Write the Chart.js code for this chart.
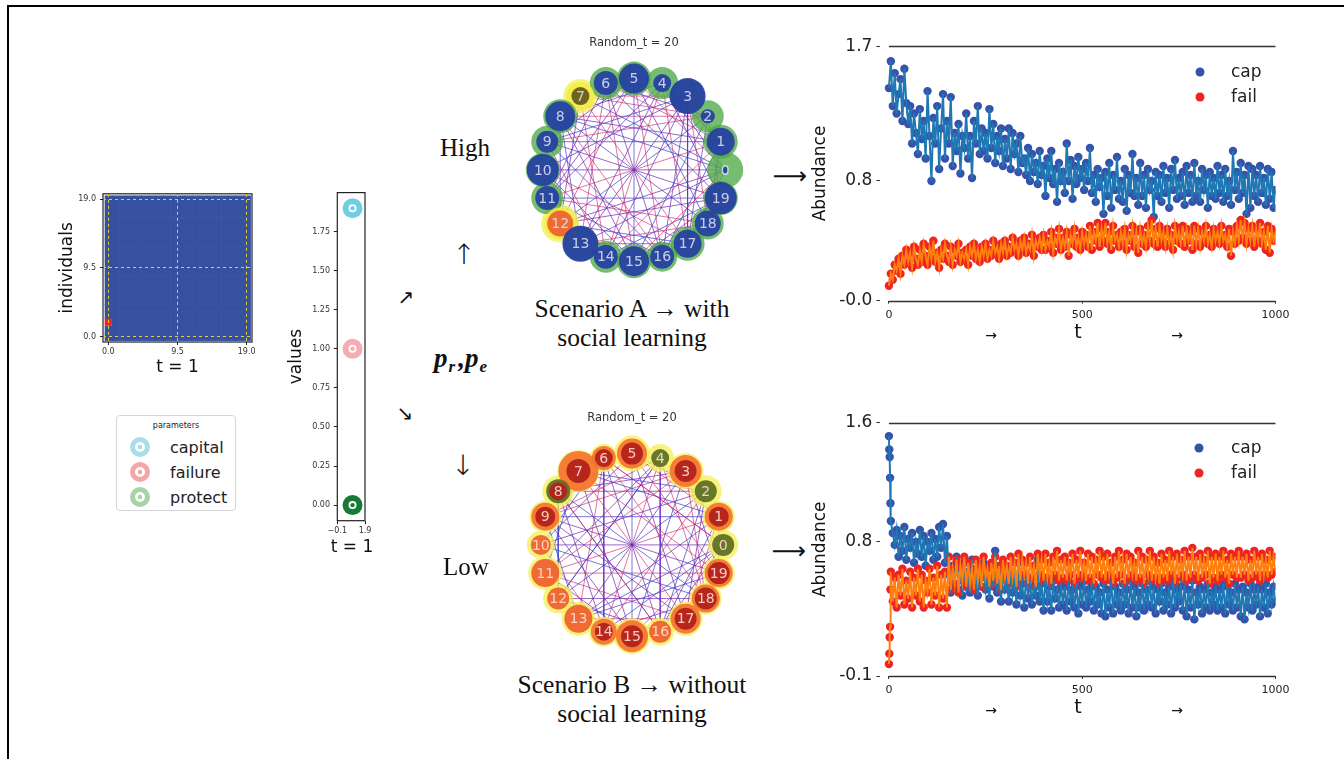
<!DOCTYPE html>
<html>
<head>
<meta charset="utf-8">
<script src="https://cdn.jsdelivr.net/npm/chart.js@4.4.1/dist/chart.umd.min.js"></script>
<style>
body { margin: 0; background: #fff; }
#page { position: relative; width: 1344px; height: 759px; overflow: hidden; font-family: "DejaVu Sans"; color: #222; }
canvas { position: absolute; }
.frame { position: absolute; left: 7px; top: 5px; width: 1400px; height: 800px; border-top: 2px solid #000; border-left: 2px solid #000; }
.lbl { position: absolute; transform: translate(-50%, -50%); white-space: nowrap; text-align: center; font-family: "Liberation Serif"; font-size: 24px; color: #111; }
.scen { line-height: 29px; font-size: 25.5px; }
.arr { font-family: "DejaVu Sans"; }
.sans { font-family: "DejaVu Sans"; font-size: 17px; color: #111; }
.params { position: absolute; left: 116px; top: 415px; width: 120px; height: 96px; border: 1px solid #d6d6d6; border-radius: 4px; box-sizing: border-box; }
.params .ttl { position: absolute; left: 0; width: 100%; top: 5px; text-align: center; font-size: 8px; color: #222; }
.ring { position: absolute; width: 10px; height: 10px; border-radius: 50%; border: 5px solid; }
.params .txt { position: absolute; left: 53px; font-size: 16px; color: #222; transform: translateY(-50%); }
.leg { position: absolute; font-size: 17px; color: #222; transform: translateY(-50%); }
.dot { position: absolute; width: 9px; height: 9px; border-radius: 50%; transform: translate(-50%, -50%); }
.pp { font-weight: bold; font-style: italic; }
.pp sub { font-size: 17px; vertical-align: -5px; margin-left: 1px; margin-right: 3px; }
</style>
</head>
<body>
<div id="page">
  <div class="frame"></div>

  <canvas id="heat" width="212" height="200" style="left:50px;top:185px"></canvas>
  <canvas id="strip" width="95" height="376" style="left:280px;top:184px"></canvas>
  <canvas id="netA" width="228" height="254" style="left:520px;top:30px"></canvas>
  <canvas id="netB" width="228" height="254" style="left:518px;top:405px"></canvas>
  <canvas id="seriesA" width="484" height="324" style="left:810px;top:32px"></canvas>
  <canvas id="seriesB" width="484" height="324" style="left:810px;top:408px"></canvas>

  <div class="lbl sans" style="left:352px;top:546px">t = 1</div>

  <div class="params">
    <div class="ttl">parameters</div>
    <div class="ring" style="left:13px;top:21px;border-color:#a9dde9;background:radial-gradient(circle,#a9dde9 0 2px,#fff 2.6px)"></div>
    <div class="txt" style="top:31px">capital</div>
    <div class="ring" style="left:13px;top:46px;border-color:#f5a6a7;background:radial-gradient(circle,#f5a6a7 0 2px,#fff 2.6px)"></div>
    <div class="txt" style="top:56px">failure</div>
    <div class="ring" style="left:13px;top:71px;border-color:#a7d3a7;background:radial-gradient(circle,#a7d3a7 0 2px,#fff 2.6px)"></div>
    <div class="txt" style="top:81px">protect</div>
  </div>

  <div class="lbl" style="left:465px;top:148px;font-size:25px">High</div>
  <div class="lbl arr" style="left:464px;top:254px;font-size:28px;font-weight:200">↑</div>
  <div class="lbl arr" style="left:406px;top:297px;font-size:20px">↗</div>
  <div class="lbl pp" style="left:462px;top:360px;font-size:27px">p<sub>r</sub>,p<sub>e</sub></div>
  <div class="lbl arr" style="left:405px;top:413px;font-size:20px">↘</div>
  <div class="lbl arr" style="left:463px;top:465px;font-size:28px;font-weight:200">↓</div>
  <div class="lbl" style="left:466px;top:567px;font-size:25px">Low</div>
  <div class="lbl scen" style="left:632px;top:323px">Scenario A → with<br>social learning</div>
  <div class="lbl scen" style="left:632px;top:699px">Scenario B → without<br>social learning</div>
  <div class="lbl arr" style="left:790px;top:176px;font-size:24px">⟶</div>
  <div class="lbl arr" style="left:789px;top:551px;font-size:24px">⟶</div>
  <div class="lbl arr" style="left:991px;top:335px;font-size:14px">→</div>
  <div class="lbl arr" style="left:1177px;top:335px;font-size:14px">→</div>
  <div class="lbl arr" style="left:991px;top:710px;font-size:14px">→</div>
  <div class="lbl arr" style="left:1177px;top:710px;font-size:14px">→</div>

  <div class="dot" style="left:1200px;top:72px;background:#3553ab"></div>
  <div class="leg" style="left:1231px;top:71px">cap</div>
  <div class="dot" style="left:1200px;top:97px;background:#ee2420"></div>
  <div class="leg" style="left:1231px;top:96px">fail</div>
  <div class="dot" style="left:1199px;top:448px;background:#3553ab"></div>
  <div class="leg" style="left:1231px;top:447px">cap</div>
  <div class="dot" style="left:1199px;top:473px;background:#ee2420"></div>
  <div class="leg" style="left:1231px;top:472px">fail</div>
</div>

<script>
// ---- heatmap (t = 1) ----
const heatSize = 20;
const heatRedCells = [[0, 2]];
const heatTicks = [0, 9.5, 19];
const heatColors = ['#3651a0', '#e8262a'];

// ---- strip plot (values at t = 1) ----
const stripNames = ['capital', 'failure', 'protect'];
const stripValues = [1.9, 1.0, 0.0];
const stripT = 1;
const stripColors = ['#72cde0', '#f5adb2', '#177a36'];
const stripXTicks = [-0.1, 1.9];
const stripYTicks = [0, 0.25, 0.5, 0.75, 1, 1.25, 1.5, 1.75];

// ---- networks (Random_t = 20) ----
const nodeCount = 20;
const netAInner = [3, 14, 7, 18, 9, 15, 12, 9, 15, 11, 16, 12, 13, 18, 12, 15, 12, 14, 13, 16];
const netAInnerCol = ['b','b','b','b','b','b','b','o','b','b','b','b','r','b','b','b','b','b','b','b'];
const netAHalo = [18, 17, 16, 17, 16, 17, 16, 14, 17, 16, 17, 16, 16, 17, 16, 17, 15, 17, 16, 17];
const netAHaloCol = ['g','g','g','g','g','g','g','y','g','g','g','g','y','g','g','g','g','g','g','g'];
const netAGlow = [0, 0, 0, 0, 0, 0, 0, 17, 0, 0, 0, 0, 19, 0, 0, 0, 0, 0, 0, 0];
const netAEdges = [[0,10],[1,11],[2,12],[3,13],[4,14],[5,15],[6,16],[7,17],[8,18],[9,19],
  [0,5],[0,7],[0,13],[0,15],[1,4],[1,8],[1,14],[1,16],[2,6],[2,9],[2,15],[2,17],[3,7],[3,9],
  [3,16],[3,18],[4,8],[4,11],[4,17],[4,19],[5,9],[5,12],[5,18],[6,11],[6,13],[6,19],[7,12],
  [7,14],[8,13],[8,15],[9,14],[9,16],[10,15],[10,17],[10,3],[11,16],[11,18],[12,17],[12,19],
  [13,18],[14,19],[15,19],[16,8],[17,0],[18,1],[19,2],[0,4],[5,11],[7,2],[13,17],[3,17],
  [8,2],[11,19],[12,0],[6,1],[9,1],[14,3],[16,5],[0,8],[4,13],[6,15],[12,8]];

const netBInner = [11, 10, 11, 11, 9, 11, 9, 12, 9, 10, 10, 14, 11, 14, 9, 11, 11, 11, 11, 11];
const netBInnerCol = ['v','d','v','d','v','d','d','d','d','d','r','r','r','r','d','d','r','d','d','d'];
const netBHalo = [0, 14, 0, 16, 0, 15, 12, 20, 12, 14, 0, 0, 0, 0, 13, 16, 0, 15, 14, 14];
const netBHaloCol = ['O','O','O','O','O','O','O','O','v','O','O','O','O','O','O','O','O','O','O','O'];
const netBGlow = [15, 16, 16, 18, 14, 18, 14, 21, 16, 16, 14, 17, 15, 17, 15, 18, 14, 17, 16, 16];
const netBEdges = [[0,10],[1,11],[2,12],[3,13],[4,14],[5,15],[6,16],[7,17],[8,18],[9,19],
  [0,6],[0,13],[0,16],[1,5],[1,9],[1,13],[1,17],[2,7],[2,10],[2,14],[2,16],[3,8],[3,11],[3,15],
  [3,19],[4,9],[4,12],[4,16],[4,18],[5,10],[5,17],[5,19],[6,10],[6,14],[6,18],[7,11],[7,15],
  [7,19],[8,12],[8,14],[8,16],[9,13],[9,17],[10,14],[10,18],[11,15],[11,17],[12,16],[12,18],
  [13,17],[13,19],[14,18],[15,0],[16,1],[17,2],[18,3],[19,1],[8,2],[11,19],[7,1],[12,4],[9,3],
  [14,0],[15,9],[6,0],[5,2],[4,11],[13,6],[16,8]];

const nodeColors = {
  b: 'rgba(35,60,165,0.9)', o: 'rgba(95,85,25,0.9)', r: 'rgba(238,95,45,0.92)',
  g: 'rgba(80,170,70,0.78)', y: 'rgba(245,235,70,0.85)', d: 'rgba(178,32,26,0.92)',
  O: 'rgba(245,112,45,0.9)', v: 'rgba(92,108,34,0.92)'
};
const glowColor = 'rgba(246,240,95,0.8)';
const edgeColors = ['rgba(110,40,180,0.7)', 'rgba(205,30,110,0.62)', 'rgba(60,60,200,0.7)'];

// ---- time series (Abundance) ----
const tTop = [0,5,10,15,20,25,30,35,40,45,50,55,60,65,70,75,80,85,90,95,
  100,105,110,115,120,125,130,135,140,145,150,155,160,165,170,175,180,185,190,195,
  200,205,210,215,220,225,230,235,240,245,250,255,260,265,270,275,280,285,290,295,
  300,305,310,315,320,325,330,335,340,345,350,355,360,365,370,375,380,385,390,395,
  400,405,410,415,420,425,430,435,440,445,450,455,460,465,470,475,480,485,490,495,
  500,505,510,515,520,525,530,535,540,545,550,555,560,565,570,575,580,585,590,595,
  600,605,610,615,620,625,630,635,640,645,650,655,660,665,670,675,680,685,690,695,
  700,705,710,715,720,725,730,735,740,745,750,755,760,765,770,775,780,785,790,795,
  800,805,810,815,820,825,830,835,840,845,850,855,860,865,870,875,880,885,890,895,
  900,905,910,915,920,925,930,935,940,945,950,955,960,965,970,975,980,985,990,995,1000];
const capTop = [1.42,1.60,1.30,1.52,1.25,1.38,1.48,1.20,1.55,1.32,
  1.18,1.30,1.05,1.25,1.12,0.98,1.28,1.08,1.20,0.95,
  1.40,1.10,0.80,1.22,1.05,1.30,0.88,1.15,1.38,0.95,
  1.20,1.05,1.36,0.90,1.12,1.00,1.18,0.85,1.10,1.02,
  1.25,0.95,1.10,0.82,1.20,1.05,1.30,0.98,1.15,1.00,
  1.12,0.95,1.28,1.02,1.18,0.92,1.10,1.00,1.15,0.90,
  1.08,0.95,1.15,0.88,1.12,0.98,1.05,0.86,1.10,0.92,
  0.95,0.84,1.02,0.80,0.98,0.86,0.92,0.78,1.00,0.84,
  0.90,0.70,0.95,0.82,1.00,0.78,0.88,0.66,0.92,0.80,
  0.86,0.72,1.05,0.80,0.94,0.68,0.90,0.78,0.96,0.82,
  0.88,0.74,0.92,0.80,1.02,0.72,0.84,0.66,0.88,0.76,
  0.82,0.58,0.86,0.70,0.92,0.62,0.84,0.74,0.96,0.68,
  0.80,0.66,0.88,0.60,0.84,0.72,0.98,0.70,0.82,0.64,
  0.92,0.70,0.84,0.62,0.88,0.74,0.80,0.56,0.86,0.70,
  0.84,0.66,0.90,0.72,0.82,0.62,0.88,0.74,0.94,0.68,
  0.82,0.70,0.86,0.64,0.90,0.72,0.84,0.66,0.92,0.70,
  0.80,0.66,0.88,0.74,0.84,0.62,0.86,0.70,0.82,0.68,
  0.90,0.72,0.84,0.66,0.88,0.70,0.80,0.64,1.00,0.74,
  0.86,0.68,0.92,0.72,0.84,0.58,0.90,0.62,0.88,0.70,
  0.84,0.66,0.90,0.72,0.82,0.64,0.88,0.68,0.86,0.62,0.74];
const failTop = [0.10,0.18,0.14,0.24,0.20,0.28,0.18,0.30,0.24,0.34,
  0.26,0.32,0.22,0.36,0.28,0.24,0.34,0.26,0.38,0.30,
  0.24,0.36,0.28,0.40,0.26,0.32,0.22,0.34,0.28,0.38,
  0.30,0.26,0.36,0.24,0.34,0.30,0.38,0.26,0.32,0.28,
  0.34,0.24,0.36,0.30,0.38,0.28,0.34,0.26,0.36,0.30,
  0.38,0.28,0.34,0.30,0.40,0.32,0.36,0.28,0.38,0.32,
  0.40,0.30,0.36,0.32,0.42,0.34,0.38,0.30,0.40,0.34,
  0.42,0.32,0.38,0.34,0.44,0.30,0.40,0.36,0.42,0.34,
  0.44,0.34,0.40,0.36,0.46,0.32,0.42,0.38,0.48,0.34,
  0.42,0.36,0.46,0.30,0.44,0.38,0.48,0.36,0.42,0.34,
  0.46,0.38,0.44,0.36,0.50,0.34,0.46,0.40,0.52,0.36,
  0.48,0.40,0.52,0.38,0.46,0.34,0.50,0.40,0.44,0.36,
  0.46,0.38,0.48,0.34,0.44,0.40,0.50,0.36,0.46,0.32,
  0.48,0.38,0.44,0.36,0.50,0.40,0.54,0.38,0.48,0.36,
  0.50,0.40,0.46,0.36,0.48,0.38,0.44,0.34,0.50,0.40,
  0.46,0.38,0.50,0.36,0.48,0.40,0.46,0.34,0.50,0.38,
  0.48,0.36,0.46,0.40,0.50,0.38,0.44,0.36,0.48,0.40,
  0.46,0.38,0.50,0.40,0.44,0.36,0.48,0.30,0.46,0.38,
  0.50,0.40,0.54,0.42,0.52,0.38,0.48,0.40,0.50,0.36,
  0.48,0.40,0.52,0.38,0.46,0.34,0.50,0.32,0.48,0.40,0.46];
const yTicksTop = [0, 0.8, 1.7];
const yLabelsTop = ['-0.0', '0.8', '1.7'];

const tBottom = [0,1,2,3,4,5,10,15,20,25,30,35,40,45,50,55,60,65,70,75,80,85,90,95,
  100,105,110,115,120,125,130,135,140,145,150,155,160,165,170,175,180,185,190,195,
  200,205,210,215,220,225,230,235,240,245,250,255,260,265,270,275,280,285,290,295,
  300,305,310,315,320,325,330,335,340,345,350,355,360,365,370,375,380,385,390,395,
  400,405,410,415,420,425,430,435,440,445,450,455,460,465,470,475,480,485,490,495,
  500,505,510,515,520,525,530,535,540,545,550,555,560,565,570,575,580,585,590,595,
  600,605,610,615,620,625,630,635,640,645,650,655,660,665,670,675,680,685,690,695,
  700,705,710,715,720,725,730,735,740,745,750,755,760,765,770,775,780,785,790,795,
  800,805,810,815,820,825,830,835,840,845,850,855,860,865,870,875,880,885,890,895,
  900,905,910,915,920,925,930,935,940,945,950,955,960,965,970,975,980,985,990,995,1000];
const capBottom = [1.51,1.42,1.37,1.23,1.06,
  0.94,0.86,0.78,0.88,0.70,0.84,0.74,0.90,0.68,0.82,
  0.76,0.86,0.66,0.80,0.72,0.88,0.70,0.84,0.64,0.80,
  0.74,0.86,0.68,0.82,0.70,0.90,0.76,0.92,0.66,0.84,
  0.58,0.46,0.64,0.52,0.70,0.48,0.62,0.44,0.66,0.50,
  0.60,0.46,0.68,0.52,0.58,0.44,0.62,0.50,0.66,0.48,
  0.56,0.42,0.64,0.50,0.74,0.46,0.58,0.40,0.62,0.48,
  0.54,0.40,0.60,0.46,0.56,0.38,0.66,0.44,0.52,0.36,
  0.58,0.42,0.54,0.38,0.50,0.44,0.68,0.40,0.52,0.34,
  0.56,0.40,0.50,0.34,0.54,0.42,0.48,0.36,0.52,0.38,
  0.50,0.34,0.54,0.40,0.48,0.36,0.52,0.32,0.50,0.38,
  0.54,0.36,0.48,0.40,0.52,0.34,0.50,0.38,0.46,0.32,
  0.52,0.30,0.48,0.36,0.54,0.32,0.50,0.38,0.46,0.34,
  0.52,0.38,0.48,0.32,0.54,0.36,0.50,0.30,0.46,0.36,
  0.52,0.34,0.48,0.38,0.54,0.36,0.50,0.32,0.48,0.40,
  0.52,0.34,0.46,0.38,0.50,0.32,0.54,0.36,0.48,0.40,
  0.50,0.34,0.52,0.30,0.48,0.36,0.54,0.28,0.46,0.38,
  0.50,0.32,0.48,0.36,0.52,0.34,0.46,0.38,0.50,0.34,
  0.48,0.36,0.52,0.32,0.50,0.38,0.46,0.34,0.52,0.36,
  0.48,0.30,0.50,0.28,0.46,0.36,0.52,0.34,0.48,0.38,
  0.50,0.30,0.48,0.36,0.52,0.32,0.46,0.38,0.50,0.40];
const failBottom = [-0.02,0.05,0.16,0.23,0.48,
  0.60,0.40,0.56,0.36,0.58,0.44,0.62,0.38,0.54,0.42,
  0.60,0.36,0.56,0.44,0.62,0.40,0.58,0.36,0.54,0.46,
  0.62,0.38,0.56,0.44,0.64,0.36,0.58,0.42,0.60,0.36,
  0.70,0.48,0.62,0.52,0.68,0.46,0.64,0.54,0.70,0.50,
  0.66,0.52,0.62,0.48,0.68,0.54,0.64,0.50,0.70,0.56,
  0.62,0.50,0.66,0.54,0.70,0.52,0.64,0.48,0.68,0.56,
  0.64,0.52,0.70,0.56,0.66,0.50,0.72,0.54,0.68,0.58,
  0.66,0.52,0.70,0.56,0.64,0.50,0.72,0.58,0.68,0.54,
  0.72,0.56,0.66,0.52,0.70,0.58,0.74,0.54,0.68,0.56,
  0.70,0.54,0.66,0.58,0.72,0.52,0.68,0.56,0.74,0.58,
  0.66,0.54,0.72,0.56,0.70,0.52,0.68,0.58,0.74,0.56,
  0.70,0.54,0.72,0.58,0.66,0.52,0.70,0.56,0.74,0.58,
  0.68,0.52,0.72,0.56,0.70,0.58,0.66,0.54,0.74,0.56,
  0.70,0.52,0.68,0.58,0.74,0.54,0.70,0.56,0.66,0.52,
  0.72,0.56,0.68,0.54,0.74,0.58,0.70,0.52,0.72,0.56,
  0.68,0.58,0.74,0.54,0.70,0.56,0.76,0.58,0.70,0.54,
  0.72,0.56,0.68,0.58,0.74,0.52,0.70,0.56,0.72,0.54,
  0.70,0.58,0.74,0.56,0.68,0.52,0.72,0.58,0.70,0.56,
  0.74,0.56,0.70,0.58,0.72,0.54,0.68,0.56,0.74,0.58,
  0.70,0.54,0.72,0.58,0.68,0.56,0.74,0.58,0.70,0.60];
const yTicksBottom = [-0.1, 0.8, 1.6];
const yLabelsBottom = ['-0.1', '0.8', '1.6'];
const xTicksSeries = [0, 500, 1000];

const capDotColor = '#3553ab', capLineColor = '#1f77b4';
const failDotColor = '#ee2420', failLineColor = '#ff7f0e';

Chart.defaults.font.family = '"DejaVu Sans"';
Chart.defaults.color = '#222';

// stroke a full box around the plot area
const frameBox = {
  id: 'frameBox',
  afterDraw(chart) {
    const { ctx, chartArea: a } = chart;
    ctx.save();
    ctx.strokeStyle = '#222';
    ctx.lineWidth = 1.2;
    ctx.strokeRect(a.left, a.top, a.right - a.left, a.bottom - a.top);
    ctx.restore();
  }
};

// heatmap cells, drawn through the scales
const heatCellsPlugin = {
  id: 'heatCells',
  beforeDatasetsDraw(chart) {
    const { ctx, scales: { x, y } } = chart;
    ctx.save();
    for (let i = 0; i < heatSize; i++) {
      for (let j = 0; j < heatSize; j++) {
        const red = heatRedCells.some(c => c[0] === i && c[1] === j);
        if (red) continue;
        const x0 = x.getPixelForValue(i - 0.5), x1 = x.getPixelForValue(i + 0.5);
        const y0 = y.getPixelForValue(j + 0.5), y1 = y.getPixelForValue(j - 0.5);
        ctx.fillStyle = heatColors[0];
        ctx.fillRect(x0, y0, x1 - x0 + 0.6, y1 - y0 + 0.6);
      }
    }
    heatRedCells.forEach(c => {
      const x0 = x.getPixelForValue(c[0] - 0.5), x1 = x.getPixelForValue(c[0] + 0.5);
      const y0 = y.getPixelForValue(c[1] + 0.5), y1 = y.getPixelForValue(c[1] - 0.5);
      ctx.fillStyle = heatColors[1];
      ctx.fillRect(x0, y0, x1 - x0, y1 - y0);
    });
    ctx.restore();
  }
};

const heatGrid = { color: '#e2cf3c', tickColor: '#222', tickLength: 3, tickBorderDash: [], z: 1 };
const heatBorder = { display: false, dash: [3, 3] };

new Chart(document.getElementById('heat'), {
  type: 'scatter',
  data: { datasets: [] },
  options: {
    animation: false, responsive: false,
    layout: { autoPadding: false, padding: { top: 8, right: 10, left: 0, bottom: 0 } },
    plugins: { legend: { display: false }, tooltip: { enabled: false } },
    scales: {
      x: {
        min: -0.73, max: 19.73,
        afterBuildTicks: s => { s.ticks = heatTicks.map(v => ({ value: v })); },
        afterFit: s => { s.height = 43; },
        grid: heatGrid,
        border: heatBorder,
        ticks: { font: { size: 8 }, color: '#333', padding: 2, maxRotation: 0, autoSkip: false, callback: v => v.toFixed(1) },
        title: { display: true, text: 't = 1', font: { size: 17 }, color: '#111', padding: { top: 0, bottom: 7 } }
      },
      y: {
        min: -0.73, max: 19.73,
        afterBuildTicks: s => { s.ticks = heatTicks.map(v => ({ value: v })); },
        afterFit: s => { s.width = 53; },
        grid: heatGrid,
        border: heatBorder,
        ticks: { font: { size: 8 }, color: '#333', padding: 4, autoSkip: false, callback: v => v.toFixed(1) },
        title: { display: true, text: 'individuals', font: { size: 17 }, color: '#111', padding: { top: 7, bottom: 0 } }
      }
    }
  },
  plugins: [heatCellsPlugin, frameBox]
});

// strip of values at t = 1
const stripPoints = stripValues.map(v => ({ x: stripT, y: v }));
new Chart(document.getElementById('strip'), {
  type: 'scatter',
  data: {
    datasets: [
      { label: 'centre', data: stripPoints, pointRadius: 2.2, pointBackgroundColor: stripColors, pointBorderWidth: 0, clip: false },
      { label: 'ring', data: stripPoints, pointRadius: 7, pointBackgroundColor: '#fff', pointBorderColor: stripColors, pointBorderWidth: 6, clip: false }
    ]
  },
  options: {
    animation: false, responsive: false,
    layout: { autoPadding: false, padding: { top: 8.6, right: 10, left: 0, bottom: 0 } },
    plugins: { legend: { display: false }, tooltip: { enabled: false } },
    scales: {
      x: {
        min: -0.1, max: 1.9,
        afterBuildTicks: s => { s.ticks = stripXTicks.map(v => ({ value: v })); },
        afterFit: s => { s.height = 39.3; },
        grid: { drawOnChartArea: false, tickColor: '#222', tickLength: 3.5 },
        border: { display: false },
        ticks: { font: { size: 8 }, color: '#333', padding: 2, maxRotation: 0, autoSkip: false,
          callback: v => (v < 0 ? '\u2212' + Math.abs(v).toFixed(1) : v.toFixed(1)) }
      },
      y: {
        min: -0.1, max: 2.0,
        afterBuildTicks: s => { s.ticks = stripYTicks.map(v => ({ value: v })); },
        afterFit: s => { s.width = 57.3; },
        grid: { drawOnChartArea: false, tickColor: '#222', tickLength: 3.5 },
        border: { display: false },
        ticks: { font: { size: 8 }, color: '#333', padding: 3.8, autoSkip: false, callback: v => v.toFixed(2) },
        title: { display: true, text: 'values', font: { size: 17 }, color: '#111', padding: { top: 6.5, bottom: 0 } }
      }
    }
  },
  plugins: [frameBox]
});

// circular layout networks
function nodePos(i) {
  const a = 2 * Math.PI * i / nodeCount;
  return { x: Math.cos(a), y: Math.sin(a) };
}

const nodeLabels = {
  id: 'nodeLabels',
  afterDatasetsDraw(chart, args, opts) {
    const { ctx } = chart;
    const meta = chart.getDatasetMeta(0);
    ctx.save();
    ctx.font = '14px "DejaVu Sans"';
    ctx.fillStyle = opts.color;
    ctx.textAlign = 'center';
    ctx.textBaseline = 'middle';
    meta.data.forEach((pt, i) => ctx.fillText(String(i), pt.x, pt.y + 1));
    ctx.restore();
  }
};

function makeNetwork(id, inner, innerCol, halo, haloCol, glow, edges, labelColor) {
  const pos = [];
  for (let i = 0; i < nodeCount; i++) pos.push(nodePos(i));
  const datasets = [
    { label: 'inner', data: pos, pointRadius: inner, pointBackgroundColor: innerCol.map(k => nodeColors[k]), pointBorderWidth: 0, order: 0, clip: false },
    { label: 'halo', data: pos, pointRadius: halo, pointBackgroundColor: haloCol.map(k => nodeColors[k]), pointBorderWidth: 0, order: 1, clip: false },
    { label: 'glow', data: pos, pointRadius: glow, pointBackgroundColor: glowColor, pointBorderWidth: 0, order: 2, clip: false }
  ];
  edges.forEach((e, k) => {
    datasets.push({
      label: 'edge', data: [pos[e[0]], pos[e[1]]], showLine: true, pointRadius: 0,
      borderColor: edgeColors[k % edgeColors.length], borderWidth: 1, order: 3
    });
  });
  new Chart(document.getElementById(id), {
    type: 'scatter',
    data: { datasets },
    options: {
      animation: false, responsive: false,
      layout: { autoPadding: false, padding: 0 },
      plugins: {
        legend: { display: false }, tooltip: { enabled: false },
        title: { display: true, text: 'Random_t = 20', font: { size: 11.5, weight: 'normal' }, color: '#333', padding: { top: 6, bottom: 6 } },
        nodeLabels: { color: labelColor }
      },
      scales: {
        x: { display: false, min: -1.25, max: 1.25 },
        y: { display: false, min: -1.25, max: 1.25 }
      }
    },
    plugins: [nodeLabels]
  });
}

makeNetwork('netA', netAInner, netAInnerCol, netAHalo, netAHaloCol, netAGlow, netAEdges, 'rgba(225,228,250,0.85)');
makeNetwork('netB', netBInner, netBInnerCol, netBHalo, netBHaloCol, netBGlow, netBEdges, 'rgba(255,225,215,0.88)');

// top and bottom spines only, from t = 0 to t = 1000
const spines = {
  id: 'spines',
  beforeDatasetsDraw(chart) {
    const { ctx, scales: { x, y } } = chart;
    const x0 = x.getPixelForValue(0), x1 = x.getPixelForValue(1000);
    ctx.save();
    ctx.strokeStyle = '#333';
    ctx.lineWidth = 1.3;
    [y.min, y.max].forEach(v => {
      const py = Math.round(y.getPixelForValue(v)) + 0.5;
      ctx.beginPath(); ctx.moveTo(x0, py); ctx.lineTo(x1, py); ctx.stroke();
    });
    ctx.restore();
  }
};

function makeSeries(id, t, cap, fail, yMin, yMax, yTicks, yLabels, padTop, xHeight, titlePad) {
  const pts = arr => t.map((v, i) => ({ x: v, y: arr[i] }));
  new Chart(document.getElementById(id), {
    type: 'scatter',
    data: {
      datasets: [
        { label: 'fail line', data: pts(fail), showLine: true, pointRadius: 0, borderColor: failLineColor, borderWidth: 2, order: 0 },
        { label: 'cap line', data: pts(cap), showLine: true, pointRadius: 0, borderColor: capLineColor, borderWidth: 2, order: 1 },
        { label: 'fail', data: pts(fail), pointRadius: 4.2, pointBackgroundColor: failDotColor, pointBorderWidth: 0, order: 2 },
        { label: 'cap', data: pts(cap), pointRadius: 4.2, pointBackgroundColor: capDotColor, pointBorderWidth: 0, order: 3 }
      ]
    },
    options: {
      animation: false, responsive: false,
      layout: { autoPadding: false, padding: { top: padTop, right: 15.7, left: 0, bottom: 0 } },
      plugins: { legend: { display: false }, tooltip: { enabled: false } },
      scales: {
        x: {
          min: -22, max: 1000,
          afterBuildTicks: s => { s.ticks = xTicksSeries.map(v => ({ value: v })); },
          afterFit: s => { s.height = xHeight; },
          grid: { drawOnChartArea: false, tickColor: '#333', tickLength: 3 },
          border: { display: false },
          ticks: { font: { size: 11 }, color: '#222', padding: 4.5, maxRotation: 0, autoSkip: false, callback: v => String(v) },
          title: { display: true, text: 't', font: { size: 19 }, color: '#111', padding: { top: 0, bottom: titlePad } }
        },
        y: {
          min: yMin, max: yMax,
          afterBuildTicks: s => { s.ticks = yTicks.map(v => ({ value: v })); },
          afterFit: s => { s.width = 70.4; },
          grid: { drawOnChartArea: false, tickColor: '#333', tickLength: 4 },
          border: { display: false },
          ticks: { font: { size: 17 }, color: '#222', padding: 4, autoSkip: false, callback: (v, i) => yLabels[i] },
          title: { display: true, text: 'Abundance', font: { size: 17 }, color: '#111', padding: { top: 0, bottom: 0 } }
        }
      }
    },
    plugins: [spines]
  });
}

makeSeries('seriesA', tTop, capTop, failTop, 0, 1.7, yTicksTop, yLabelsTop, 14, 55.3, 11.6);
makeSeries('seriesB', tBottom, capBottom, failBottom, -0.1, 1.6, yTicksBottom, yLabelsBottom, 14.7, 56, 12.3);
</script>
</body>
</html>
